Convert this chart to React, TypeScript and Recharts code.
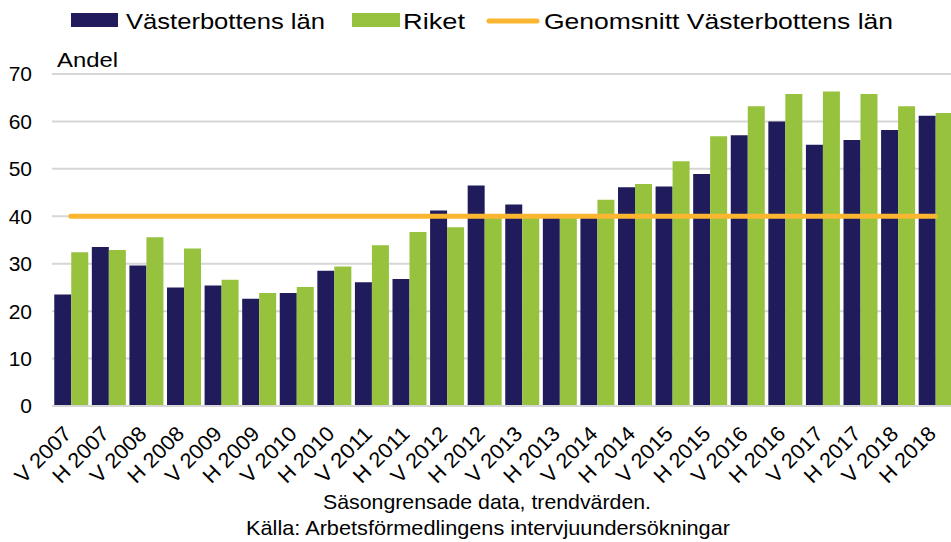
import React from "react";
import {
  ComposedChart,
  Bar,
  Line,
  XAxis,
  YAxis,
  CartesianGrid,
} from "recharts";

const categories = [
  "V 2007", "H 2007", "V 2008", "H 2008", "V 2009", "H 2009",
  "V 2010", "H 2010", "V 2011", "H 2011", "V 2012", "H 2012",
  "V 2013", "H 2013", "V 2014", "H 2014", "V 2015", "H 2015",
  "V 2016", "H 2016", "V 2017", "H 2017", "V 2018", "H 2018",
];

const vasterbotten = [
  23.5, 33.5, 29.6, 25.0, 25.4, 22.6, 23.8, 28.5, 26.1, 26.8, 41.2, 46.5,
  42.5, 40.0, 39.9, 46.1, 46.3, 48.9, 57.1, 60.0, 55.1, 56.1, 58.2, 61.2,
];

const riket = [
  32.4, 32.9, 35.6, 33.2, 26.6, 23.8, 25.1, 29.4, 33.9, 36.7, 37.7, 40.0,
  39.9, 40.0, 43.5, 46.8, 51.6, 56.9, 63.2, 65.8, 66.3, 65.8, 63.2, 61.8,
];

// genomsnitt för Västerbottens län över hela perioden
const genomsnitt = 40;

const yTicks = [0, 10, 20, 30, 40, 50, 60, 70];

const seriesNames = ["Västerbottens län", "Riket", "Genomsnitt Västerbottens  län"];

const NAVY = "#201c5c";
const GREEN = "#96c23e";
const ORANGE = "#fbb631";
const FONT = "'Liberation Sans', Arial, sans-serif";

const data = categories.map((c, i) => ({
  period: c,
  vb: vasterbotten[i],
  riket: riket[i],
  avg: genomsnitt,
}));

function XTick({ x, y, payload }: any) {
  const ax = x + 2;
  const ay = y + 21;
  return (
    <text
      x={ax}
      y={ay}
      transform={`rotate(-45 ${ax} ${ay})`}
      textAnchor="end"
      fontSize={21}
      fontFamily={FONT}
      fill="#000"
      textLength={70}
      lengthAdjust="spacingAndGlyphs"
    >
      {payload.value}
    </text>
  );
}

export default function App() {
  return (
    <div
      style={{
        position: "fixed",
        top: 0,
        left: 0,
        width: 951,
        height: 542,
        overflow: "hidden",
        background: "#fff",
        fontFamily: FONT,
      }}
    >
      <ComposedChart
        width={960}
        height={542}
        data={data}
        margin={{ top: 74, right: 6, bottom: 106, left: 0 }}
        barCategoryGap="6%"
        barGap={0}
      >
        <CartesianGrid vertical={false} stroke="#d6d6d6" strokeWidth={2} />
        <XAxis
          dataKey="period"
          height={30}
          axisLine={{ stroke: "#d6d6d6", strokeWidth: 2 }}
          tickLine={false}
          interval={0}
          tick={<XTick />}
        />
        <YAxis
          width={52}
          domain={[0, 70]}
          ticks={yTicks}
          axisLine={false}
          tickLine={false}
          tickSize={0}
          tickMargin={20}
          tick={{ fontSize: 21, fill: "#000", fontFamily: FONT }}
        />
        <Bar dataKey="vb" name={seriesNames[0]} fill={NAVY} isAnimationActive={false} />
        <Bar dataKey="riket" name={seriesNames[1]} fill={GREEN} isAnimationActive={false} />
        <Line
          dataKey="avg"
          name={seriesNames[2]}
          stroke={ORANGE}
          strokeWidth={5}
          strokeLinecap="round"
          dot={false}
          activeDot={false}
          isAnimationActive={false}
        />
      </ComposedChart>

      <svg
        width={951}
        height={542}
        style={{ position: "absolute", top: 0, left: 0, pointerEvents: "none" }}
        fontFamily={FONT}
      >
        {/* legend */}
        <rect x={71} y={13} width={47} height={14} fill={NAVY} />
        <text x={126} y={29} fontSize={22} textLength={199} lengthAdjust="spacingAndGlyphs">
          {seriesNames[0]}
        </text>
        <rect x={352} y={13} width={48} height={14} fill={GREEN} />
        <text x={403} y={29} fontSize={22} textLength={62} lengthAdjust="spacingAndGlyphs">
          {seriesNames[1]}
        </text>
        <line x1={489} y1={21} x2={537} y2={21} stroke={ORANGE} strokeWidth={5} strokeLinecap="round" />
        <text x={544} y={29} fontSize={22} textLength={349} lengthAdjust="spacingAndGlyphs">
          {seriesNames[2]}
        </text>

        <text x={57} y={67} fontSize={21} textLength={61} lengthAdjust="spacingAndGlyphs">
          Andel
        </text>

        <text x={487} y={509} fontSize={21} textAnchor="middle" textLength={328} lengthAdjust="spacingAndGlyphs">
          Säsongrensade data, trendvärden.
        </text>
        <text x={488} y={535} fontSize={21} textAnchor="middle" textLength={484} lengthAdjust="spacingAndGlyphs">
          Källa: Arbetsförmedlingens  intervjuundersökningar
        </text>
      </svg>
    </div>
  );
}
